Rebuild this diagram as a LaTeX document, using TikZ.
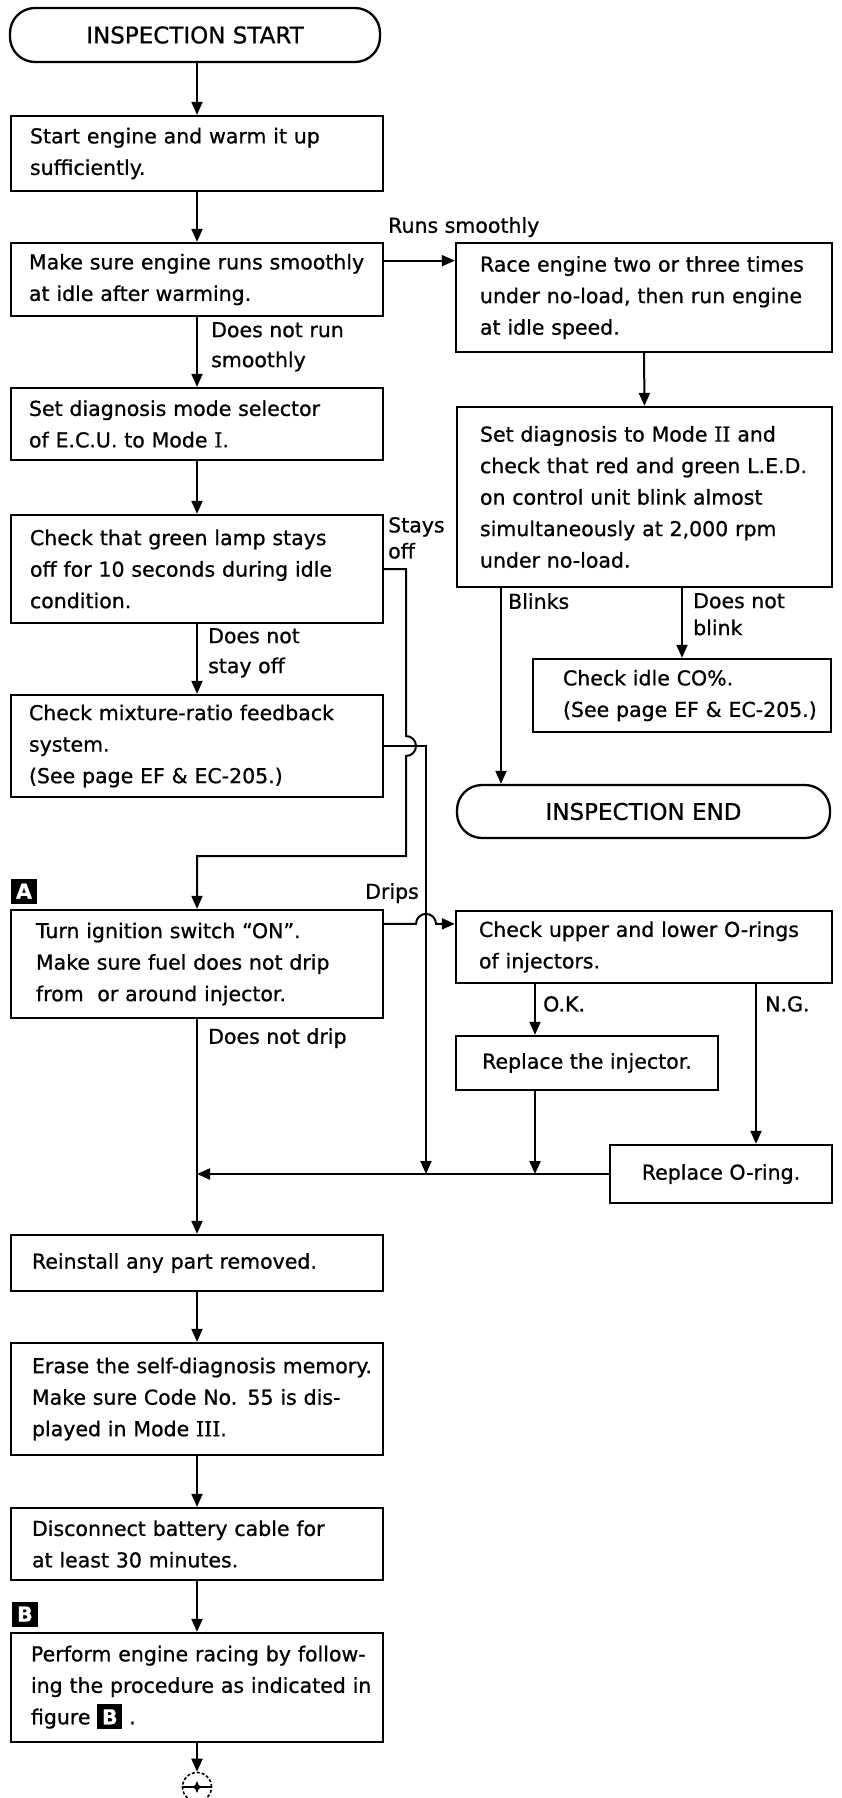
\documentclass[tikz,border=0pt]{standalone}
\usepackage{fontspec}
\setmainfont[FakeBold=0.8]{DejaVu Sans}
\newfontfamily\romfont[FakeBold=0.8]{DejaVu Serif}
\usetikzlibrary{arrows.meta,calc}
\newcommand\bodyfont{\fontsize{20.5}{31.5}\selectfont}
\newcommand\lblfont{\fontsize{20.5}{30}\selectfont}
\newcommand\termfont{\fontsize{23}{27}\selectfont}
\newcommand\romn[1]{{\romfont #1}}
% black tag with a white letter (section markers)
\newcommand\blk[1]{{\setlength{\fboxsep}{0pt}\colorbox{black}{\rule[-5pt]{0pt}{25pt}\makebox[25pt]{\color{white}\bfseries #1}}}}

\begin{document}
\begin{tikzpicture}[x=1pt,y=1pt,
  box/.style={draw, line width=2.3pt, rectangle, align=left, inner ysep=0pt, font=\bodyfont},
  plainbox/.style={draw, line width=2.3pt, rectangle, align=center, inner sep=0pt, font=\bodyfont},
  term/.style={draw, line width=2.3pt, rectangle, rounded corners=25pt, inner sep=0pt, font=\termfont},
  link/.style={line width=2pt},
  arr/.style={link, -{Triangle[length=13pt,width=11pt]}},
  lbl/.style={font=\lblfont, inner sep=0pt, anchor=north west, align=left},
  marker/.style={inner sep=0pt, font=\bodyfont},
]
\fill[white] (0,0) rectangle (842,-1798);
\useasboundingbox (0,0) rectangle (842,-1798);

% ---------- left column ----------
\node[term, minimum width=370pt, minimum height=54pt] (start) at (195,-35) {INSPECTION START};

\node[box, minimum width=372pt, minimum height=75pt, text width=334pt, inner xsep=19pt] (warm) at (197,-153.5)
  {\mbox{Start engine and warm it up}\\\mbox{sufficiently.}};

\node[box, minimum width=372pt, minimum height=73pt, text width=336pt, inner xsep=18pt] (smooth) at (197,-279.5)
  {\mbox{Make sure engine runs smoothly}\\\mbox{at idle after warming.}};

\node[box, minimum width=372pt, minimum height=72pt, text width=336pt, inner xsep=18pt] (selector) at (197,-424)
  {\mbox{Set diagnosis mode selector}\\\mbox{of E.C.U. to Mode \romn{I}.}};

\node[box, minimum width=372pt, minimum height=108pt, text width=334pt, inner xsep=19pt] (lamp) at (197,-569)
  {\mbox{Check that green lamp stays}\\\mbox{off for 10 seconds during idle}\\\mbox{condition.}};

\node[box, minimum width=372pt, minimum height=102pt, text width=336pt, inner xsep=18pt] (mixture) at (197,-746)
  {\mbox{Check mixture-ratio feedback}\\\mbox{system.}\\\mbox{(See page EF \& EC-205.)}};

\node[box, minimum width=372pt, minimum height=108pt, text width=322pt, inner xsep=25pt] (ignition) at (197,-964)
  {\mbox{Turn ignition switch “ON”.}\\\mbox{Make sure fuel does not drip}\\\mbox{from \ or around injector.}};

\node[box, minimum width=372pt, minimum height=56pt, text width=330pt, inner xsep=21pt] (reinstall) at (197,-1263)
  {\mbox{Reinstall any part removed.}};

\node[box, minimum width=372pt, minimum height=112pt, text width=330pt, inner xsep=21pt] (erase) at (197,-1399)
  {\mbox{Erase the self-diagnosis memory.}\\\mbox{Make sure Code No. 55 is dis-}\\\mbox{played in Mode \romn{III}.}};

\node[box, minimum width=372pt, minimum height=72pt, text width=330pt, inner xsep=21pt] (disconnect) at (197,-1544)
  {\mbox{Disconnect battery cable for}\\\mbox{at least 30 minutes.}};

\node[box, minimum width=372pt, minimum height=109pt, text width=332pt, inner xsep=20pt] (perform) at (197,-1687.5)
  {\mbox{Perform engine racing by follow-}\\\mbox{ing the procedure as indicated in}\\\mbox{figure \blk{B} .}};

% off-page connector
\node[draw, circle, line width=1.6pt, dash pattern=on 3pt off 2pt, minimum size=29pt, inner sep=0pt] (conn) at (197,-1787) {};
\draw[line width=1.6pt] (conn.west) -- (conn.east);
\fill[shift={(conn.center)}] (0,6) -- (1.8,1.8) -- (6,0) -- (1.8,-1.8) -- (0,-6) -- (-1.8,-1.8) -- (-6,0) -- (-1.8,1.8) -- cycle;

% section markers
\node[marker] (markA) at (24,-891) {\blk{A}};
\node[marker] (markB) at (25,-1614) {\blk{B}};

% ---------- right column ----------
\node[box, minimum width=376pt, minimum height=109pt, text width=328pt, inner xsep=24pt] (race) at (644,-297.5)
  {\mbox{Race engine two or three times}\\\mbox{under no-load, then run engine}\\\mbox{at idle speed.}};

\node[box, minimum width=375pt, minimum height=180pt, text width=329pt, inner xsep=23pt] (mode2) at (644.5,-497)
  {\mbox{Set diagnosis to Mode \romn{II} and}\\\mbox{check that red and green L.E.D.}\\\mbox{on control unit blink almost}\\\mbox{simultaneously at 2,000 rpm}\\\mbox{under no-load.}};

\node[box, minimum width=298pt, minimum height=73pt, text width=238pt, inner xsep=30pt] (co) at (682,-695.5)
  {\mbox{Check idle CO\%.}\\\mbox{(See page EF \& EC-205.)}};

\node[term, minimum width=373pt, minimum height=53pt] (end) at (643.5,-811.5) {INSPECTION END};

\node[box, minimum width=376pt, minimum height=72pt, text width=330pt, inner xsep=23pt] (orings) at (644,-947)
  {\mbox{Check upper and lower O-rings}\\\mbox{of injectors.}};

\node[plainbox, minimum width=262pt, minimum height=54pt] (injector) at (587,-1063) {Replace the injector.};

\node[plainbox, minimum width=222pt, minimum height=58pt] (oring2) at (721,-1174) {Replace O-ring.};

% ---------- branch labels ----------
\node[lbl] (lRuns) at (388,-217) {Runs smoothly};
\node[lbl] (lNotRun) at (211,-322) {Does not run\\smoothly};
\node[lbl, font=\fontsize{20.5}{26}\selectfont] (lStays) at (388,-517) {Stays\\off};
\node[lbl] (lNotStay) at (208,-628) {Does not\\stay off};
\node[lbl] (lBlinks) at (508,-593) {Blinks};
\node[lbl, font=\fontsize{20.5}{27}\selectfont] (lNotBlink) at (693,-593) {Does not\\blink};
\node[lbl] (lDrips) at (365,-883) {Drips};
\node[lbl] (lNotDrip) at (208,-1028) {Does not drip};
\node[lbl] (lOK) at (543,-996) {O.K.};
\node[lbl] (lNG) at (765,-996) {N.G.};

% ---------- helper coordinates ----------
\coordinate (sx) at (406,0);
\coordinate (mx) at (426,0);
\coordinate (turnA) at (0,-856);
\coordinate (okx) at (535,0);
\coordinate (ngx) at (756,0);
\coordinate (bx) at (501,0);
\coordinate (rs) at ($(smooth.north east)!0.25!(smooth.south east)$);
\coordinate (hopA) at (sx |- mixture.east);
\coordinate (dA) at ($(ignition.north east)+(0,-15)$);

% ---------- connectors ----------
\draw[arr] (start.south -| warm.north) -- (warm.north);
\draw[arr] (warm.south) -- (smooth.north);
\draw[arr] (rs) -- (rs -| race.west);
\draw[arr] (smooth.south) -- (selector.north);
\draw[arr] (selector.south) -- (lamp.north);
\draw[arr] (lamp.south) -- (mixture.north);

% stays off: hops over the feedback line
\draw[arr] (lamp.east) -| ($(hopA)+(0,10)$) arc[start angle=90, end angle=-90, radius=10]
  -- (sx |- turnA) -| (ignition.north);
% feedback system check returns to the common line
\draw[arr] (mixture.east) -| (mx |- oring2.west);
% drips: hops over the feedback line
\draw[arr] (dA) -- ($(mx |- dA)+(-10,0)$) arc[start angle=180, end angle=0, radius=10]
  -- (dA -| orings.west);

\draw[arr] (race.south) -- (mode2.north);
\draw[arr] (bx |- mode2.south) -- (bx |- end.north);
\draw[arr] (co.north |- mode2.south) -- (co.north);

\draw[arr] (okx |- orings.south) -- (okx |- injector.north);
\draw[arr] (ngx |- orings.south) -- (ngx |- oring2.north);
\draw[arr] (okx |- injector.south) -- (okx |- oring2.west);
\draw[arr] (oring2.west) -- (ignition.south |- oring2.west);

\draw[arr] (ignition.south) -- (reinstall.north);
\draw[arr] (reinstall.south) -- (erase.north);
\draw[arr] (erase.south) -- (disconnect.north);
\draw[arr] (disconnect.south) -- (perform.north);
\draw[arr] (perform.south) -- (conn.north);
\end{tikzpicture}
\end{document}
